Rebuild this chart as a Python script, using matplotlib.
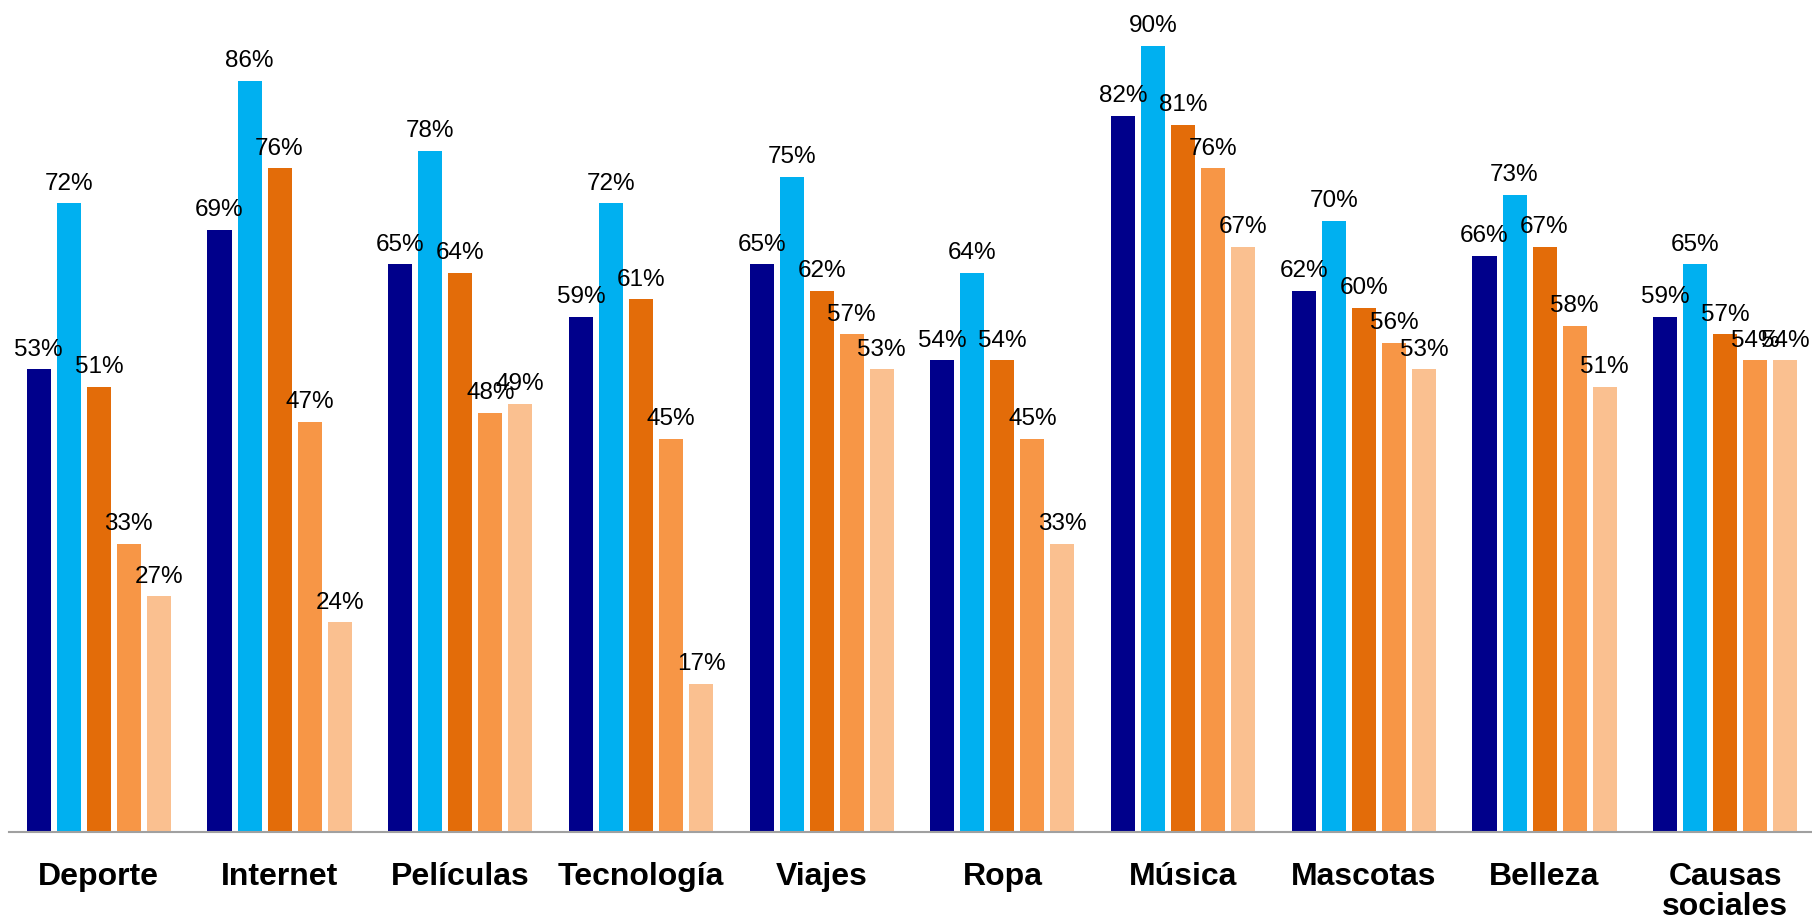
import matplotlib.pyplot as plt
import numpy as np

plt.rcParams['font.family'] = ['Liberation Sans', 'DejaVu Sans']

# --- data ---
categories = ['Deporte', 'Internet', 'Películas', 'Tecnología', 'Viajes',
              'Ropa', 'Música', 'Mascotas', 'Belleza', 'Causas\nsociales']
serie_1 = [53, 69, 65, 59, 65, 54, 82, 62, 66, 59]
serie_2 = [72, 86, 78, 72, 75, 64, 90, 70, 73, 65]
serie_3 = [51, 76, 64, 61, 62, 54, 81, 60, 67, 57]
serie_4 = [33, 47, 48, 45, 57, 45, 76, 56, 58, 54]
serie_5 = [27, 24, 49, 17, 53, 33, 67, 53, 51, 54]

series = [serie_1, serie_2, serie_3, serie_4, serie_5]
colors = ['#00008B', '#00B0F0', '#E36C09', '#F79646', '#FAC090']

fig = plt.figure(figsize=(18.12, 9.2), dpi=100)
ax = fig.add_axes([9 / 1812, 87 / 920, 1 - 9 / 1812, 833 / 920])

x = np.arange(len(categories))
step = 1 / 6.02
width = step * 0.8

for j, (vals, col) in enumerate(zip(series, colors)):
    pos = x + (j - 2) * step
    bars = ax.bar(pos, vals, width=width, color=col, linewidth=0)
    for b, v in zip(bars, vals):
        ax.annotate(f'{v}%', (b.get_x() + b.get_width() / 2, v),
                    xytext=(0, 7), textcoords='offset points',
                    ha='center', va='bottom', fontsize=17.5, color='black')

ax.set_xlim(-0.497, 9.48)
ax.set_ylim(0, 95.4)
ax.set_xticks(x)
ax.set_xticklabels(categories, fontsize=23, fontweight='bold')
for lbl in ax.get_xticklabels():
    lbl.set_linespacing(1.0)
ax.tick_params(axis='x', length=0, pad=21)
ax.set_yticks([])

for s in ['top', 'right', 'left']:
    ax.spines[s].set_visible(False)
ax.spines['bottom'].set_color('#A0A0A0')
ax.spines['bottom'].set_linewidth(1.5)

fig.savefig('out.png', dpi=100)
